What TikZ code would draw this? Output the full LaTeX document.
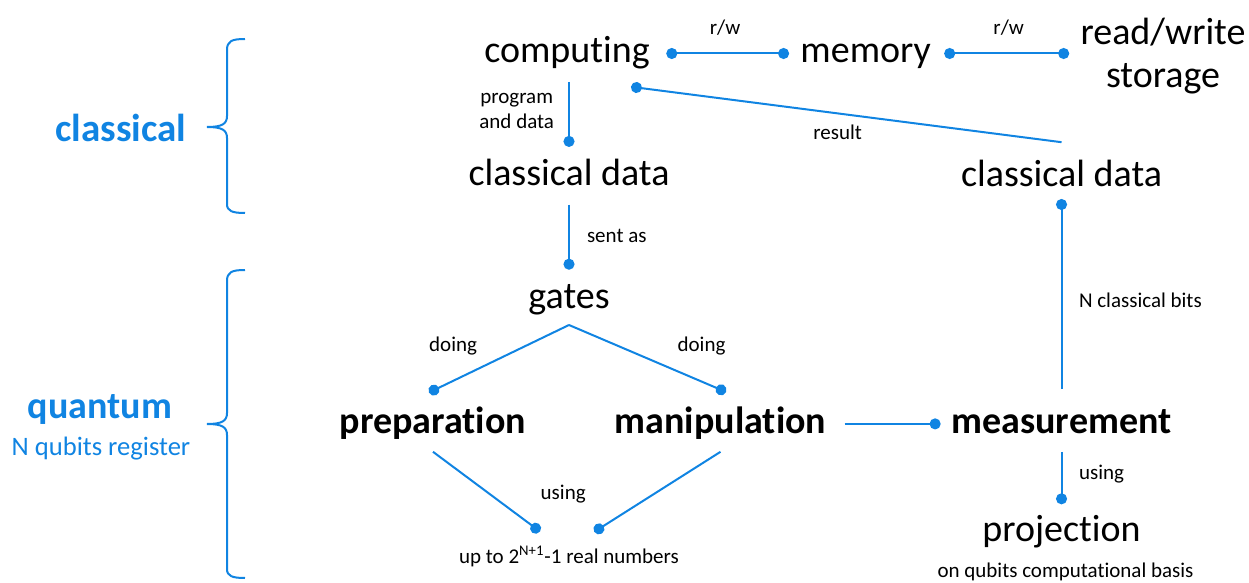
\documentclass[tikz,border=0pt]{standalone}
\usepackage{fontspec}
\setmainfont{Carlito}[Ligatures=NoCommon]
\usetikzlibrary{arrows.meta,positioning}
\definecolor{qblue}{RGB}{16,132,226}

\begin{document}
\begin{tikzpicture}[
  x=0.5pt, y=-0.5pt,
  big/.style={font=\fontsize{19}{21.5}\selectfont, text height=14.25pt, text depth=4.75pt, inner sep=0pt},
  bigb/.style={big, font=\fontsize{19}{21.5}\selectfont\bfseries},
  bigm/.style={font=\fontsize{19}{21.5}\selectfont, align=center, inner sep=0pt},
  lbl/.style={font=\fontsize{10.5}{12.5}\selectfont, text height=7.9pt, text depth=2.6pt, inner sep=0pt},
  lblm/.style={font=\fontsize{10.5}{12.5}\selectfont, align=center, inner sep=0pt},
  side/.style={text=qblue, inner sep=0pt, anchor=base},
  link/.style={draw=qblue, line width=1pt, shorten <=4.5pt, shorten >=5pt, -{Circle[length=5.5pt]}},
  grp/.style={draw=qblue, line width=1pt}]
  \useasboundingbox (0,0) rectangle (1249,583);

  % classical side
  \node[big, anchor=base] (cmp) at (567,63) {computing};
  \node[big, right=75pt of cmp] (mem) {memory};
  \node[bigm, right=74.5pt of mem, yshift=-1.5pt] (sto) {read/write\\storage};
  \node[big, below=42pt of cmp, xshift=1pt] (cl1) {classical data};

  % quantum side
  \node[big, below=42pt of cl1] (gates) {gates};
  \node[bigb, below=43pt of gates, xshift=-68pt] (prep) {preparation};
  \node[bigb, right=44pt of prep] (man) {manipulation};
  \node[bigb, right=62.35pt of man] (meas) {measurement};
  \node[big, above=104pt of meas] (cl2) {classical data};
  \node[big, below=34.5pt of meas] (proj) {projection};
  \node[lbl, below=114.4pt of gates] (upto) {up to 2\textsuperscript{N+1}-1 real numbers};
  \node[lbl, below=5pt of proj, xshift=2pt] (basis) {on qubits computational basis};

  % group labels
  \node[side, font=\fontsize{19.5}{22}\selectfont\bfseries] (clab) at (121,141.5) {classical};
  \node[side, font=\fontsize{19}{21.5}\selectfont\bfseries] (qlab) at (100,418) {quantum};
  \node[side, font=\fontsize{13.3}{16}\selectfont] (qreg) at (101,455) {N qubits register};
  \draw[grp] (245,39) .. controls (232,39) and (227,41) .. (227,50) -- (227,116)
    .. controls (227,124) and (222,127) .. (207,127) .. controls (222,127) and (227,130) .. (227,138)
    -- (227,204) .. controls (227,211) and (232,213) .. (245,213);
  \draw[grp] (245,270) .. controls (232,270) and (227,272) .. (227,281) -- (227,413)
    .. controls (227,421) and (222,424) .. (207,424) .. controls (222,424) and (227,427) .. (227,435)
    -- (227,569) .. controls (227,576) and (232,578) .. (245,578);

  % connectors
  \draw[link, {Circle[length=5.5pt]}-{Circle[length=5.5pt]}, shorten <=8.1pt, shorten >=5.5pt]
    (cmp) -- node[lbl, above=6.6pt] (rw1) {r/w} (mem);
  \draw[link, {Circle[length=5.5pt]}-{Circle[length=5.5pt]}, shorten <=6.5pt, shorten >=5.5pt]
    (mem.east) -- node[lbl, above=6.6pt, pos=0.52] (rw2) {r/w} (mem.east -| sto.west);
  \draw[link] (cl1.north |- cmp.south) -- node[lblm, left=7pt, pos=0.45] (pad) {program\\and data} (cl1.north);
  \draw[link, shorten <=0pt, shorten >=0pt] ([yshift=7.75pt]cl2.north)
    -- node[lbl, below=4.8pt, pos=0.52] (res) {result} ([xshift=32pt, yshift=-6.95pt]cmp.south);
  \draw[link] (cl1) -- node[lbl, right=8.5pt, pos=0.49] (sent) {sent as} (gates);
  \draw[link, shorten <=0pt, shorten >=0pt] ([yshift=-3.25pt]gates.south)
    -- node[lbl, pos=0.65, above left=5.75pt and 0pt] (dol) {doing} ([xshift=-2pt, yshift=6pt]prep.north);
  \draw[link, shorten <=0pt, shorten >=0pt] ([yshift=-3.25pt]gates.south)
    -- node[lbl, pos=0.685, above right=6.8pt and 0pt] (dor) {doing} ([xshift=2.8pt, yshift=6.25pt]man.north);
  \draw[link, shorten <=0pt, shorten >=0pt] ([yshift=-4.25pt]prep.south)
    -- node[lbl, pos=0.53, right=25pt] (usl) {using} ([xshift=-14.5pt, yshift=7.9pt]upto.north);
  \draw[link, shorten <=0pt, shorten >=0pt] ([yshift=-4.25pt]man.south)
    -- ([xshift=12.65pt, yshift=7.75pt]upto.north);
  \draw[link, shorten <=9pt, shorten >=5.3pt] (man) -- (meas);
  \draw[link, shorten <=7.75pt, shorten >=1.25pt] (meas) -- node[lbl, right=8.25pt, pos=0.49] (ncb) {N classical bits} (cl2);
  \draw[link, shorten <=4.25pt, shorten >=4pt] (meas) -- node[lbl, right=8.25pt, pos=0.45] (usr) {using} (proj);
\end{tikzpicture}
\end{document}
